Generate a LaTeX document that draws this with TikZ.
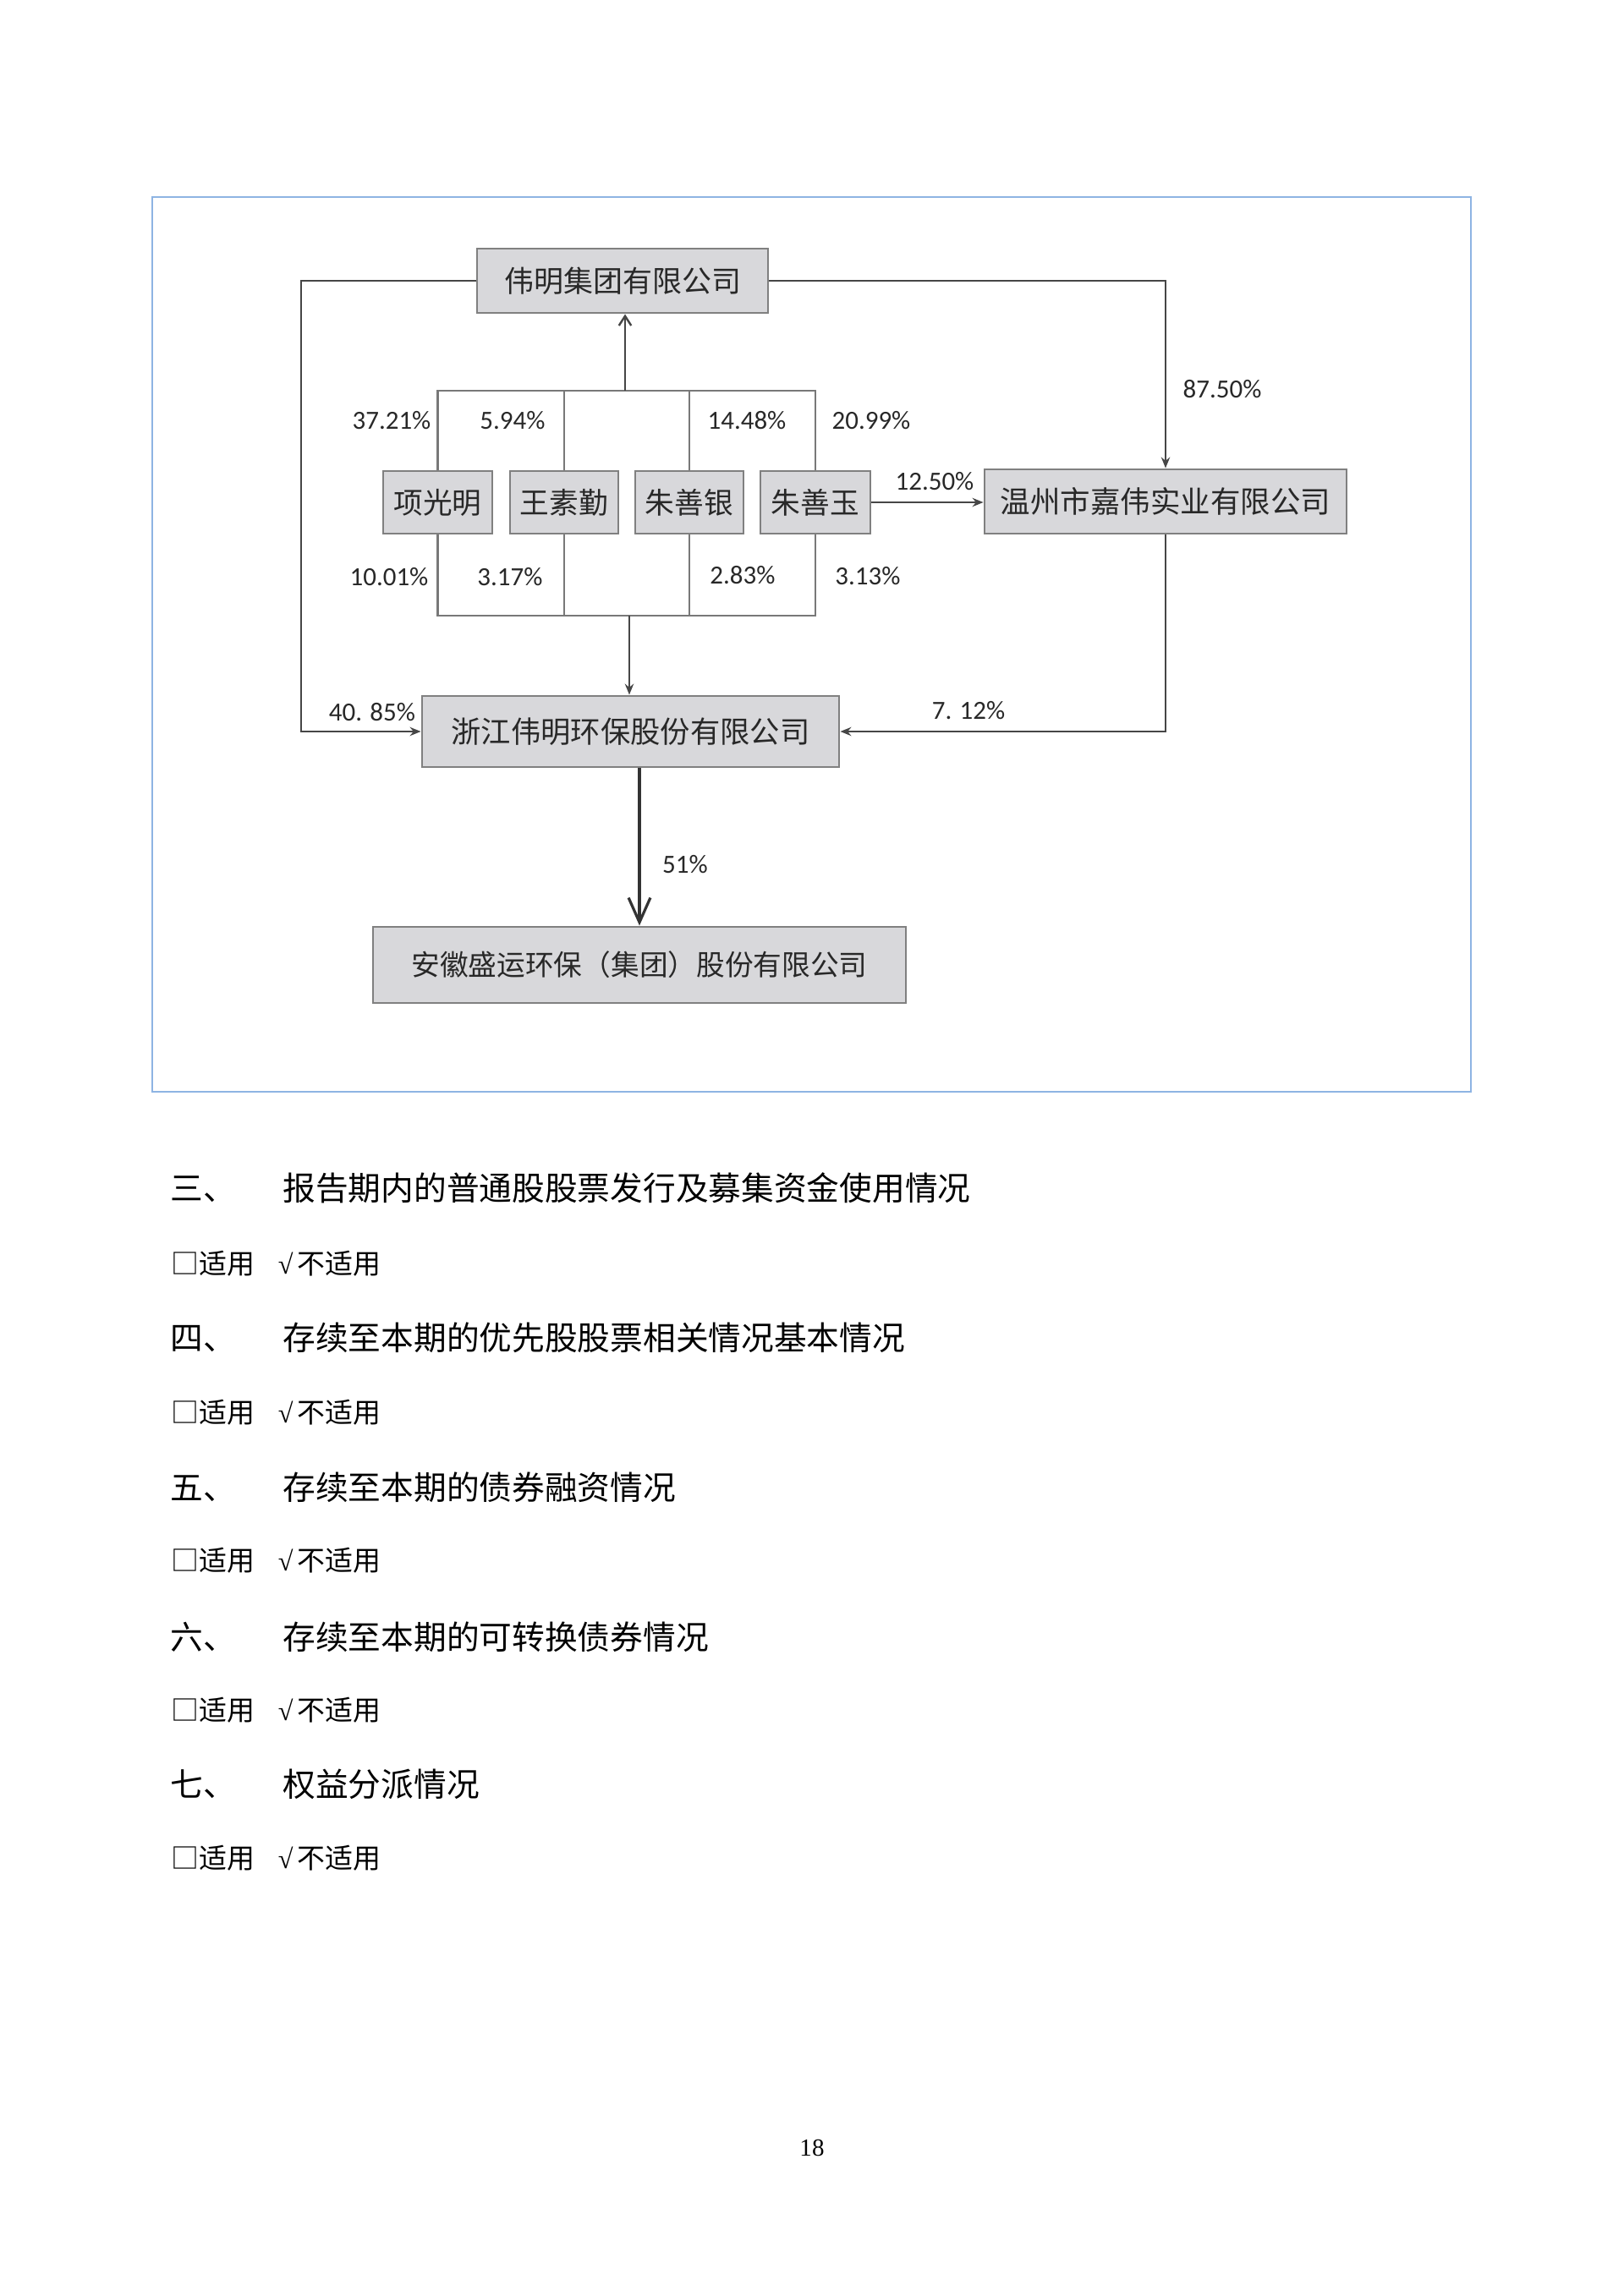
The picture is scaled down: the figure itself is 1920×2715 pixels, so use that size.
\documentclass[tikz,border=0pt]{standalone}
\usepackage{fontspec}
\setmainfont{Liberation Serif}
\newfontfamily\cjk{Noto Sans CJK SC}
\newfontfamily\calfont{Carlito}
\newfontfamily\checkfont{Liberation Serif}
\usetikzlibrary{arrows.meta,calc}
\definecolor{boxfill}{RGB}{216,216,219}
\definecolor{boxline}{RGB}{128,128,128}
\definecolor{connc}{RGB}{70,70,70}
\definecolor{busc}{RGB}{120,120,120}
\definecolor{frameblue}{RGB}{142,180,227}
\definecolor{txt}{RGB}{40,40,40}
\newcommand{\chk}{{\checkfont\fontsize{10pt}{11pt}\selectfont √}}
\begin{document}
\begin{tikzpicture}[x=0.31pt,y=-0.31pt,
  box/.style={draw=boxline, fill=boxfill, line width=0.9pt, inner sep=0pt, text=txt},
  pct/.style={inner sep=0pt, text=txt, font=\calfont\fontsize{9.6pt}{11pt}\selectfont},
  connline/.style={draw=connc, line width=0.75pt},
  busline/.style={draw=busc, line width=0.85pt},
  sarrow/.style={-{Stealth[length=4pt,width=3.2pt]}},
  uparrow/.style={-{Straight Barb[length=3.5pt,width=4.5pt]}},
  bigarrow/.style={-{Straight Barb[length=9pt,width=8pt]}},
  head/.style={inner sep=0pt, anchor=west, font=\cjk\fontsize{12pt}{14pt}\selectfont},
  appl/.style={inner sep=0pt, anchor=west, font=\cjk\fontsize{10.2pt}{12pt}\selectfont}
]
\useasboundingbox (0,0) rectangle (1920,2715);
\fill[white] (0,0) rectangle (1920,2715);

% frame
\draw[frameblue, line width=0.6pt] (180,233) rectangle (1739,1291);

% boxes
\node[box, minimum width=344*0.31pt, minimum height=76*0.31pt, font=\cjk\fontsize{10.85pt}{13pt}\selectfont] (top) at (736,332) {伟明集团有限公司};
\node[box, minimum width=129*0.31pt, minimum height=74*0.31pt, font=\cjk\fontsize{10.75pt}{13pt}\selectfont] (xgm) at (517.5,594) {项光明};
\node[box, minimum width=128*0.31pt, minimum height=74*0.31pt, font=\cjk\fontsize{10.75pt}{13pt}\selectfont] (wsq) at (667,594) {王素勤};
\node[box, minimum width=128*0.31pt, minimum height=74*0.31pt, font=\cjk\fontsize{10.75pt}{13pt}\selectfont] (zsy) at (815,594) {朱善银};
\node[box, minimum width=130*0.31pt, minimum height=74*0.31pt, font=\cjk\fontsize{10.75pt}{13pt}\selectfont] (zsyu) at (964,594) {朱善玉};
\node[box, minimum width=428*0.31pt, minimum height=76*0.31pt, font=\cjk\fontsize{11pt}{14pt}\selectfont] (wz) at (1378,593) {温州市嘉伟实业有限公司};
\node[box, minimum width=493*0.31pt, minimum height=84*0.31pt, font=\cjk\fontsize{10.95pt}{13pt}\selectfont] (zj) at (745.5,865) {浙江伟明环保股份有限公司};
\node[box, minimum width=630*0.31pt, minimum height=90*0.31pt, font=\cjk\fontsize{10.45pt}{13pt}\selectfont] (ah) at (756,1141) {安徽盛运环保（集团）股份有限公司};

% top bus
\coordinate (bt) at (739,462);
\draw[busline] (xgm.north) -- (xgm.north |- bt) -- (zsyu.north |- bt) -- (zsyu.north);
\draw[busline] (wsq.north) -- (wsq.north |- bt);
\draw[busline] (zsy.north) -- (zsy.north |- bt);
\draw[connline, uparrow] (bt) -- (bt |- top.south);

% bottom bus
\coordinate (bb) at (744,728);
\draw[busline] (xgm.south) -- (xgm.south |- bb) -- (zsyu.south |- bb) -- (zsyu.south);
\draw[busline] (wsq.south) -- (wsq.south |- bb);
\draw[busline] (zsy.south) -- (zsy.south |- bb);
\draw[connline, sarrow] (bb) -- (bb |- zj.north);

% left loop
\coordinate (lc) at (356,332);
\draw[connline, sarrow] (top.west) -- (lc) |- (zj.west);

% right loop
\draw[connline, sarrow] (top.east) -| (wz.north);
\draw[connline, sarrow] (wz.south) |- (zj.east);

% zhu shanyu -> wenzhou
\draw[connline, sarrow] (zsyu.east) -- (zsyu.east -| wz.west);

% zhejiang -> anhui
\draw[draw=black!80, line width=1pt, bigarrow] (zj.south -| ah.north) -- (ah.north);

% labels
\node[pct] (l1) at (463,497) {37.21\%};
\node[pct] (l2) at (606,497) {5.94\%};
\node[pct] (l3) at (883,497) {14.48\%};
\node[pct] (l4) at (1030,497) {20.99\%};
\node[pct] (l5) at (460,682) {10.01\%};
\node[pct] (l6) at (603,682) {3.17\%};
\node[pct] (l7) at (878,680) {2.83\%};
\node[pct] (l8) at (1026,681) {3.13\%};
\node[pct] (l9) at (1445,460) {87.50\%};
\node[pct] (l10) at (1105,569) {12.50\%};
\node[pct] (l11) at (440,842) {40. 85\%};
\node[pct] (l12) at (1145,840) {7. 12\%};
\node[pct] (l13) at (810,1022) {51\%};

% text below
\node[head] (h3) at (201,1405) {\makebox[41.2pt][l]{三、}报告期内的普通股股票发行及募集资金使用情况};
\node[appl] (a3) at (202,1494) {\makebox[39.1pt][l]{□适用}\chk\,不适用};
\node[head] (h4) at (201,1582) {\makebox[41.2pt][l]{四、}存续至本期的优先股股票相关情况基本情况};
\node[appl] (a4) at (202,1670) {\makebox[39.1pt][l]{□适用}\chk\,不适用};
\node[head] (h5) at (201,1759) {\makebox[41.2pt][l]{五、}存续至本期的债券融资情况};
\node[appl] (a5) at (202,1845) {\makebox[39.1pt][l]{□适用}\chk\,不适用};
\node[head] (h6) at (201,1936) {\makebox[41.2pt][l]{六、}存续至本期的可转换债券情况};
\node[appl] (a6) at (202,2022) {\makebox[39.1pt][l]{□适用}\chk\,不适用};
\node[head] (h7) at (201,2110) {\makebox[41.2pt][l]{七、}权益分派情况};
\node[appl] (a7) at (202,2197) {\makebox[39.1pt][l]{□适用}\chk\,不适用};

\node[inner sep=0pt, font=\fontsize{9pt}{10pt}\selectfont] (pg) at (960,2540) {18};
\end{tikzpicture}
\end{document}
